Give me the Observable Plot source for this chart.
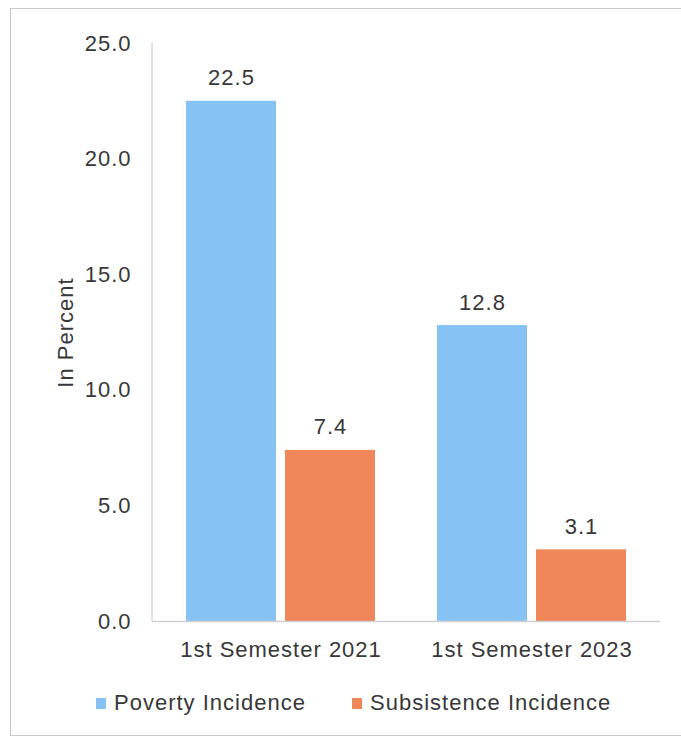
<!DOCTYPE html>
<html>
<head>
<meta charset="utf-8">
<script src="https://cdn.jsdelivr.net/npm/d3@7"></script>
<script src="https://cdn.jsdelivr.net/npm/@observablehq/plot@0.6"></script>
<style>
  html, body { margin: 0; padding: 0; background: #fff; }
  #wrap { position: relative; width: 681px; height: 739px; overflow: hidden; font-family: "Liberation Sans", Arial, sans-serif; color: #383838; }
  #border { position: absolute; left: 10px; top: 8px; width: 720px; height: 726px; border: 1px solid #c9c9c9; }
  #chart { position: absolute; left: 0; top: 0; }
  #legend { position: absolute; left: 0; top: 690px; width: 681px; height: 26px; font-size: 22px; letter-spacing: 1px; }
  .item { position: absolute; top: 0; display: flex; align-items: center; height: 26px; }
  .sw { width: 10px; height: 11px; margin-right: 8px; }
</style>
</head>
<body>
<div id="wrap">
  <div id="border"></div>
  <div id="chart"></div>
  <div id="legend"></div>
</div>
<script>
const periods = ["1st Semester 2021", "1st Semester 2023"];
const seriesNames = ["Poverty Incidence", "Subsistence Incidence"];
const povertyValues = [22.5, 12.8];
const subsistenceValues = [7.4, 3.1];
const yTicks = [0, 5, 10, 15, 20, 25];
const colors = ["#86c2f3", "#f0875a"];

const poverty = periods.map((p, i) => ({period: p, value: povertyValues[i]}));
const subsistence = periods.map((p, i) => ({period: p, value: subsistenceValues[i]}));

const plot = Plot.plot({
  width: 681,
  height: 670,
  marginLeft: 152,
  marginRight: 21,
  marginTop: 43,
  marginBottom: 49,
  style: {fontFamily: "'Liberation Sans', Arial, sans-serif", fontSize: "22px", color: "#383838", letterSpacing: "1px", background: "transparent"},
  x: {domain: periods, paddingInner: 0.246, paddingOuter: 0.131},
  y: {domain: [0, 25]},
  marks: [
    Plot.barY(poverty, {x: "period", y: "value", fill: colors[0], insetRight: 99}),
    Plot.barY(subsistence, {x: "period", y: "value", fill: colors[1], insetLeft: 99}),
    Plot.ruleY([0], {stroke: "#d0d0d0", strokeWidth: 1.5}),
    Plot.text(poverty, {x: "period", y: "value", text: d => d.value.toFixed(1), dx: -49.5, dy: -23, fill: "#383838", fontSize: 22}),
    Plot.text(subsistence, {x: "period", y: "value", text: d => d.value.toFixed(1), dx: 49.5, dy: -23, fill: "#383838", fontSize: 22}),
    Plot.axisX({tickSize: 0, tickPadding: 20, label: null}),
    Plot.axisY({ticks: yTicks, tickFormat: d => d.toFixed(1), tickSize: 0, tickPadding: 21, label: "In Percent", labelAnchor: "center", labelOffset: 95, labelArrow: "none"})
  ]
});

// thin light vertical axis line at the left edge of the plot area
const ys = plot.scale("y");
const xs = plot.scale("x");
d3.select(plot).append("line")
  .attr("x1", xs.range[0]).attr("x2", xs.range[0])
  .attr("y1", ys.range[1]).attr("y2", ys.range[0])
  .attr("stroke", "#d6d6d6").attr("stroke-width", 1.5);

document.getElementById("chart").appendChild(plot);

const legend = document.getElementById("legend");
const legendLeft = [96, 352];
seriesNames.forEach((name, i) => {
  const item = document.createElement("div");
  item.className = "item";
  item.style.left = legendLeft[i] + "px";
  const sw = document.createElement("div");
  sw.className = "sw";
  sw.style.background = colors[i];
  const t = document.createElement("span");
  t.textContent = name;
  item.appendChild(sw);
  item.appendChild(t);
  legend.appendChild(item);
});
</script>
</body>
</html>
